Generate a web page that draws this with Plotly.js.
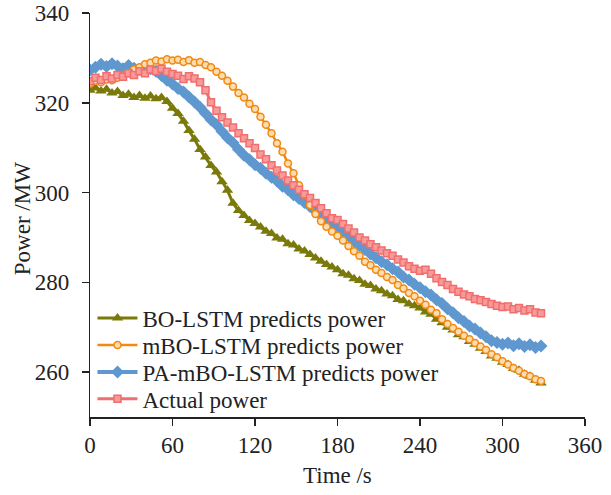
<!DOCTYPE html>
<html>
<head>
<meta charset="utf-8">
<script src="https://cdn.plot.ly/plotly-3.0.1.min.js"></script>
<style>html,body{margin:0;padding:0;background:#fff;}#chart{width:611px;height:495px;}</style>
</head>
<body>
<div id="chart"></div>
<script>
const timeS = [0,4,8,12,16,20,24,28,32,36,40,44,48,52,56,60,64,68,72,76,80,84,88,92,96,100,104,108,112,116,120,124,128,132,136,140,144,148,152,156,160,164,168,172,176,180,184,188,192,196,200,204,208,212,216,220,224,228,232,236,240,244,248,252,256,260,264,268,272,276,280,284,288,292,296,300,304,308,312,316,320,324,328];

const boLstm = [322.8,323.3,322.6,323.0,322.2,322.5,321.6,321.9,321.2,321.6,321.0,321.5,320.9,321.2,320.3,318.8,317.6,315.9,313.8,311.9,309.6,307.9,306.0,304.6,302.4,300.5,297.6,296.0,294.9,293.8,293.1,292.3,291.4,290.9,289.9,289.6,288.6,288.3,287.4,287.0,286.2,285.4,284.7,284.0,283.4,282.8,281.9,281.6,280.8,280.4,279.6,279.3,278.5,278.1,277.4,277.0,276.2,275.9,275.2,274.8,274.3,273.4,272.9,271.8,271.0,270.0,269.4,268.3,267.9,266.8,266.2,265.3,264.6,263.6,263.1,262.2,261.7,260.8,260.4,259.5,259.1,258.2,257.6];

const mboLstm = [324.3,324.9,324.6,325.2,325.0,325.6,326.1,326.6,327.4,327.9,328.6,328.9,329.4,329.2,329.7,329.4,329.6,329.1,329.5,328.9,329.1,328.4,327.9,326.9,326.0,324.9,323.6,322.2,321.2,319.8,318.6,316.9,315.1,313.2,311.0,309.1,306.5,304.3,301.6,299.5,297.2,295.2,293.6,292.4,291.3,290.4,289.3,288.1,286.9,285.9,284.6,283.8,282.8,282.1,281.2,280.5,279.4,278.6,277.6,276.9,275.9,275.0,273.9,273.1,271.8,270.7,269.8,269.0,268.1,267.3,266.5,265.7,264.9,264.0,263.3,262.4,261.7,260.9,260.3,259.6,259.1,258.4,258.0];

const paMboLstm = [327.3,327.9,328.6,328.1,328.7,328.2,327.6,328.3,327.7,327.4,327.9,327.6,327.0,326.1,325.0,324.2,323.2,322.4,321.3,320.2,319.0,317.6,316.2,315.1,313.6,312.2,311.1,309.6,308.3,307.3,306.2,305.4,304.3,303.4,302.6,301.4,300.6,299.5,298.7,297.8,296.9,295.9,295.1,294.1,293.3,292.5,291.3,290.4,289.2,288.2,287.3,286.3,285.5,284.6,283.9,283.0,282.3,281.2,280.5,279.6,278.8,277.9,277.2,276.1,275.3,274.1,273.2,272.1,271.3,270.3,269.6,268.7,267.9,267.0,266.6,266.2,266.5,265.9,266.3,265.7,266.1,265.5,265.8];

const actualPower = [324.8,325.6,325.1,325.9,325.4,326.2,325.8,326.6,326.2,327.0,326.6,327.4,327.1,327.6,326.9,326.4,326.0,325.3,325.9,325.4,324.6,322.8,320.1,318.2,316.8,315.6,314.5,313.2,312.1,311.0,309.9,308.5,307.4,306.1,304.9,303.8,302.7,301.6,300.6,299.6,298.8,297.7,296.5,295.4,294.3,293.9,293.0,292.0,291.1,290.0,289.3,288.5,287.8,287.1,286.5,285.9,285.1,284.4,283.6,283.0,282.6,282.8,281.9,280.9,280.1,279.4,278.5,277.9,277.3,276.9,276.3,276.0,275.6,275.2,274.8,274.5,274.6,274.0,274.3,273.7,274.0,273.3,273.1];

const seriesNames = ['BO-LSTM predicts power','mBO-LSTM predicts power','PA-mBO-LSTM predicts power','Actual power'];
const xTicks = [0,60,120,180,240,300,360];
const yTicks = [260,280,300,320,340];

const serif = 'Liberation Serif, Times New Roman, serif';

const traces = [
  {x: timeS, y: boLstm, name: seriesNames[0], legend: 'legend', mode: 'lines+markers',
   line: {color: '#7a7a0a', width: 3}, marker: {symbol: 'triangle-up', size: 10, color: '#7a7a0a'}},
  {x: timeS, y: paMboLstm, name: seriesNames[2], legend: 'legend3', mode: 'lines+markers',
   line: {color: '#5f97cf', width: 4}, marker: {symbol: 'diamond', size: 10, color: '#5f97cf'}},
  {x: timeS, y: mboLstm, name: seriesNames[1], legend: 'legend2', mode: 'lines+markers',
   line: {color: '#f28a12', width: 2.5}, marker: {symbol: 'circle', size: 7, color: '#fcdcb0', line: {color: '#f28a12', width: 1.5}}},
  {x: timeS, y: actualPower, name: seriesNames[3], legend: 'legend4', mode: 'lines+markers',
   line: {color: '#f26d6d', width: 3}, marker: {symbol: 'square', size: 7, color: '#f79a9a', line: {color: '#f26d6d', width: 1.5}}}
];

const legFont = {family: serif, size: 23, color: '#222'};
function leg(yc) {
  return {x: 0.005, y: yc, xanchor: 'left', yanchor: 'middle', bgcolor: 'rgba(0,0,0,0)',
          font: legFont, itemwidth: 40};
}

const layout = {
  width: 611, height: 495,
  margin: {l: 90, r: 26, t: 13, b: 78},
  paper_bgcolor: '#fff', plot_bgcolor: '#fff',
  font: {family: serif, color: '#222', size: 23},
  showlegend: true,
  legend: leg(0.245),
  legend2: leg(0.178),
  legend3: leg(0.111),
  legend4: leg(0.045),
  xaxis: {range: [0, 360], tickmode: 'array', tickvals: xTicks, ticktext: xTicks.map(String),
          showgrid: false, zeroline: false, showline: true, linecolor: '#222', linewidth: 1.5,
          ticks: 'outside', ticklen: 7, tickwidth: 1.5, tickcolor: '#222',
          tickfont: {family: serif, size: 23, color: '#222'}},
  yaxis: {range: [250, 340], tickmode: 'array', tickvals: yTicks, ticktext: yTicks.map(v => v + '\u2006\u2006'),
          showgrid: false, zeroline: false, showline: true, linecolor: '#222', linewidth: 1.5,
          ticks: 'outside', ticklen: 7, tickwidth: 1.5, tickcolor: '#222',
          tickfont: {family: serif, size: 23, color: '#222'}},
  annotations: [
    {text: 'Power /MW', xref: 'paper', yref: 'paper', x: -0.137, y: 0.49, xanchor: 'center', yanchor: 'middle',
     textangle: -90, showarrow: false, font: {family: serif, size: 23, color: '#222'}},
    {text: 'Time /s', xref: 'paper', yref: 'paper', x: 0.5, y: -0.146, xanchor: 'center', yanchor: 'middle',
     showarrow: false, font: {family: serif, size: 23, color: '#222'}}
  ]
};

Plotly.newPlot('chart', traces, layout, {displayModeBar: false, staticPlot: true});
</script>
</body>
</html>
